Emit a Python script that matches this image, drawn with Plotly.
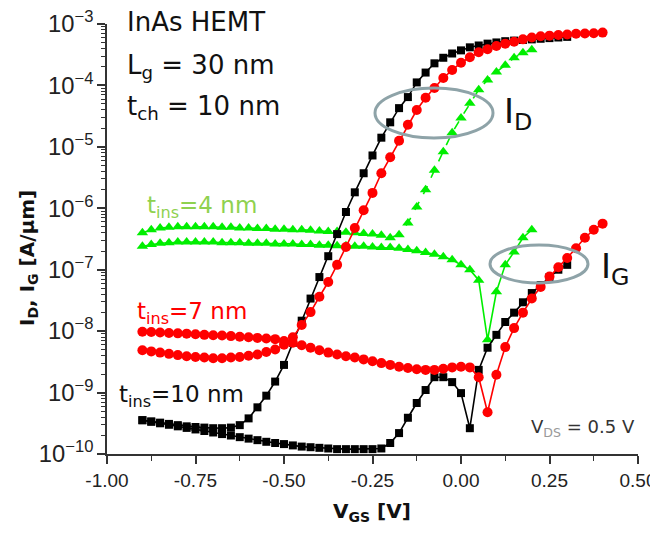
import plotly.graph_objects as go

# ---------------- data ----------------
VGS = [-0.9, -0.875, -0.85, -0.825, -0.8, -0.775, -0.75, -0.725, -0.7, -0.675,
       -0.65, -0.625, -0.6, -0.575, -0.55, -0.525, -0.5, -0.475, -0.45, -0.425,
       -0.4, -0.375, -0.35, -0.325, -0.3, -0.275, -0.25, -0.225, -0.2, -0.175,
       -0.15, -0.125, -0.1, -0.075, -0.05, -0.025, 0.0, 0.025, 0.05, 0.075,
       0.1, 0.125, 0.15, 0.175, 0.2, 0.225, 0.25, 0.275, 0.3, 0.325,
       0.35, 0.375, 0.4]

# t_ins = 10 nm (black), VGS -0.9 .. 0.3
ID_10 = [3.55e-10, 3.39e-10, 3.24e-10, 3.09e-10, 2.95e-10, 2.82e-10, 2.75e-10, 2.69e-10, 2.63e-10, 2.63e-10,
         2.69e-10, 2.95e-10, 3.8e-10, 5.75e-10, 8.9e-10, 1.51e-9, 2.82e-9, 6.46e-9, 1.48e-8, 3.39e-8,
         7.59e-8, 1.66e-7, 3.8e-7, 8.7e-7, 1.82e-6, 3.72e-6, 7.24e-6, 1.41e-5, 2.51e-5, 4.27e-5,
         6.46e-5, 1.12e-4, 1.62e-4, 2.29e-4, 2.82e-4, 3.31e-4, 3.72e-4, 4.17e-4, 4.47e-4, 4.79e-4,
         5.01e-4, 5.25e-4, 5.37e-4, 5.5e-4, 5.62e-4, 5.75e-4, 5.89e-4, 6.03e-4, 6.17e-4]
IG_10 = [3.55e-10, 3.35e-10, 3.16e-10, 2.99e-10, 2.82e-10, 2.66e-10, 2.51e-10, 2.37e-10, 2.24e-10, 2.11e-10,
         2.0e-10, 1.88e-10, 1.78e-10, 1.68e-10, 1.58e-10, 1.51e-10, 1.45e-10, 1.38e-10, 1.32e-10, 1.29e-10,
         1.26e-10, 1.23e-10, 1.2e-10, 1.2e-10, 1.2e-10, 1.2e-10, 1.2e-10, 1.23e-10, 1.51e-10, 2.19e-10,
         3.89e-10, 6.76e-10, 1.10e-9, 1.78e-9, 1.78e-9, 1.48e-9, 9.8e-10, 2.63e-10, 2.34e-9, 5.37e-9,
         8.7e-9, 1.41e-8, 2.0e-8, 2.95e-8, 4.17e-8, 5.62e-8, 7.59e-8, 1.0e-7, 1.2e-7]

# t_ins = 7 nm (red), VGS -0.9 .. 0.4
ID_7 = [4.9e-9, 4.68e-9, 4.47e-9, 4.27e-9, 4.07e-9, 3.89e-9, 3.8e-9, 3.72e-9, 3.63e-9, 3.63e-9,
        3.72e-9, 3.8e-9, 3.98e-9, 4.17e-9, 4.57e-9, 5.01e-9, 6.03e-9, 7.94e-9, 1.26e-8, 2.04e-8,
        3.63e-8, 6.31e-8, 1.2e-7, 2.34e-7, 4.79e-7, 9.3e-7, 1.78e-6, 3.72e-6, 6.76e-6, 1.26e-5,
        2.29e-5, 3.98e-5, 6.31e-5, 9.1e-5, 1.32e-4, 1.78e-4, 2.34e-4, 2.88e-4, 3.47e-4, 3.89e-4,
        4.37e-4, 4.79e-4, 5.13e-4, 5.62e-4, 6.03e-4, 6.31e-4, 6.46e-4, 6.61e-4, 6.76e-4, 6.92e-4,
        7.0e-4, 7.08e-4, 7.24e-4]
IG_7 = [9.8e-9, 9.7e-9, 9.5e-9, 9.3e-9, 9.2e-9, 9.1e-9, 8.9e-9, 8.7e-9, 8.6e-9, 8.5e-9,
        8.3e-9, 8.1e-9, 7.94e-9, 7.76e-9, 7.59e-9, 7.41e-9, 6.92e-9, 6.46e-9, 5.89e-9, 5.37e-9,
        4.9e-9, 4.47e-9, 4.17e-9, 3.89e-9, 3.72e-9, 3.47e-9, 3.24e-9, 3.02e-9, 2.82e-9, 2.63e-9,
        2.51e-9, 2.4e-9, 2.34e-9, 2.34e-9, 2.45e-9, 2.57e-9, 2.63e-9, 2.57e-9, 1.78e-9, 4.79e-10,
        1.95e-9, 5.5e-9, 1.12e-8, 2.0e-8, 3.39e-8, 5.25e-8, 7.76e-8, 1.1e-7, 1.55e-7, 2.24e-7,
        3.31e-7, 4.47e-7, 5.62e-7]

# t_ins = 4 nm (green), VGS -0.9 .. 0.2
ID_4 = [3.98e-7, 4.47e-7, 4.79e-7, 4.9e-7, 5.01e-7, 5.01e-7, 5.01e-7, 5.01e-7, 5.01e-7, 4.9e-7,
        4.9e-7, 4.79e-7, 4.79e-7, 4.68e-7, 4.68e-7, 4.57e-7, 4.57e-7, 4.47e-7, 4.47e-7, 4.37e-7,
        4.27e-7, 4.17e-7, 4.17e-7, 4.07e-7, 3.98e-7, 3.89e-7, 3.8e-7, 3.63e-7, 3.31e-7, 3.72e-7,
        5.75e-7, 1.05e-6, 2.0e-6, 4.17e-6, 8.32e-6, 1.7e-5, 2.95e-5, 5.13e-5, 8.51e-5, 1.23e-4,
        1.66e-4, 2.14e-4, 2.82e-4, 3.39e-4, 3.8e-4]
IG_4 = [2.4e-7, 2.57e-7, 2.69e-7, 2.75e-7, 2.82e-7, 2.82e-7, 2.82e-7, 2.82e-7, 2.82e-7, 2.75e-7,
        2.75e-7, 2.75e-7, 2.69e-7, 2.69e-7, 2.69e-7, 2.63e-7, 2.63e-7, 2.63e-7, 2.57e-7, 2.57e-7,
        2.51e-7, 2.51e-7, 2.45e-7, 2.45e-7, 2.4e-7, 2.4e-7, 2.34e-7, 2.29e-7, 2.29e-7, 2.24e-7,
        2.14e-7, 2.04e-7, 1.91e-7, 1.78e-7, 1.62e-7, 1.45e-7, 1.2e-7, 1.0e-7, 6.76e-8, 7.24e-9,
        4.37e-8, 1.2e-7, 1.95e-7, 3.31e-7, 4.47e-7]

X_TICKS = [-1.0, -0.75, -0.5, -0.25, 0.0, 0.25, 0.5]
X_TICK_LABELS = ["-1.00", "-0.75", "-0.50", "-0.25", "0.00", "0.25", "0.50"]

# ---------------- layout helpers ----------------
OFF = 8                          # default page (body) margin of the html page
W, H = 658 - OFF, 533 - OFF
L, R, T, B = 107, 638, 24, 454   # plot area in page pixels


def paper(px, py):
    return (px - L) / (R - L), (B - py) / (B - T)


TXT = "DejaVu Sans"
TICK = "Liberation Sans, Arial, sans-serif"
GREEN_TXT = "#8fd14f"

fig = go.Figure()

def add(x, y, color, symbol, size, dash="solid"):
    fig.add_trace(go.Scatter(
        x=x, y=y, mode="lines+markers",
        line=dict(color=color, width=1.6, dash=dash),
        marker=dict(symbol=symbol, size=size, color=color, line=dict(width=0)),
        showlegend=False, hoverinfo="skip", cliponaxis=False))

add(VGS[:len(IG_4)], IG_4, "#00ee00", "triangle-up", 10)
add(VGS[:len(ID_4)], ID_4, "#00ee00", "triangle-up", 10, dash="dash")
add(VGS[:len(IG_10)], IG_10, "#000000", "square", 8)
add(VGS[:len(ID_10)], ID_10, "#000000", "square", 8)
add(VGS[:len(IG_7)], IG_7, "#ff0000", "circle", 10)
add(VGS[:len(ID_7)], ID_7, "#ff0000", "circle", 10)

annotations = []

def text(px, py, s, size, color="#111", family=TXT, **kw):
    x, y = paper(px, py)
    annotations.append(dict(x=x, y=y, xref="paper", yref="paper", text=s,
                            showarrow=False, xanchor="left", yanchor="middle",
                            font=dict(family=family, size=size, color=color), **kw))

text(125, 22, "InAs HEMT", 26)
text(125, 67, "L<sub>g</sub> = 30 nm", 26)
text(125, 107, "t<sub>ch</sub> = 10 nm", 26)
text(145, 207, "t<sub>ins</sub>=4 nm", 23, color=GREEN_TXT)
text(135, 313, "t<sub>ins</sub>=7 nm", 23, color="#ff0000")
text(117, 396, "t<sub>ins</sub>=10 nm", 23, color="#111")
text(502, 113, "I<sub>D</sub>", 34)
text(599, 268, "I<sub>G</sub>", 34)
text(529, 428, "V<sub><span style='color:#999'>DS</span></sub> = 0.5 V", 18, color="#333")

# axis titles
xt, yt = paper(372, 512)
annotations.append(dict(x=xt, y=yt, xref="paper", yref="paper", showarrow=False,
                        text="<b>V<sub>GS</sub> [V]</b>", xanchor="center", yanchor="middle",
                        font=dict(family=TXT, size=20, color="#111")))
xt, yt = paper(28, 258)
annotations.append(dict(x=xt, y=yt, xref="paper", yref="paper", showarrow=False,
                        text="<b>I<sub>D</sub>, I<sub>G</sub> [A/μm]</b>", textangle=-90,
                        xanchor="center", yanchor="middle",
                        font=dict(family=TXT, size=20, color="#111")))

shapes = []
for (x0p, y0p, x1p, y1p) in [(375, 88, 493, 138), (490, 245, 588, 283)]:
    a0, b0 = paper(x0p, y1p)
    a1, b1 = paper(x1p, y0p)
    shapes.append(dict(type="circle", xref="paper", yref="paper", x0=a0, y0=b0, x1=a1, y1=b1,
                       line=dict(color="#8ea3a8", width=3)))

fig.update_layout(
    width=W, height=H,
    margin=dict(l=L - OFF, r=658 - R, t=T - OFF, b=533 - B, autoexpand=False),
    paper_bgcolor="white", plot_bgcolor="white",
    annotations=annotations, shapes=shapes,
    xaxis=dict(range=[-1.0, 0.5], tickvals=X_TICKS, ticktext=X_TICK_LABELS,
               automargin=False, ticklabeloverflow="allow",
               showline=True, linecolor="#333", linewidth=1.5, mirror=False,
               ticks="outside", ticklen=8, tickwidth=1.5, tickcolor="#333",
               showgrid=False, zeroline=False,
               tickfont=dict(family=TICK, size=19, color="#222"),
               minor=dict(dtick=0.125, tick0=0, ticks="outside", ticklen=5, tickwidth=1.2,
                          tickcolor="#333", showgrid=False)),
    yaxis=dict(type="log", range=[-10, -3], dtick=1, exponentformat="power",
               automargin=False, ticklabeloverflow="allow",
               showline=True, linecolor="#333", linewidth=1.5, mirror=False,
               ticks="outside", ticklen=8, tickwidth=1.5, tickcolor="#333",
               showgrid=False, zeroline=False,
               tickfont=dict(family=TICK, size=19, color="#222"),
               minor=dict(dtick="D1", ticks="outside", ticklen=4, tickwidth=1,
                          tickcolor="#333", showgrid=False)),
)

fig.write_html("out.html")
